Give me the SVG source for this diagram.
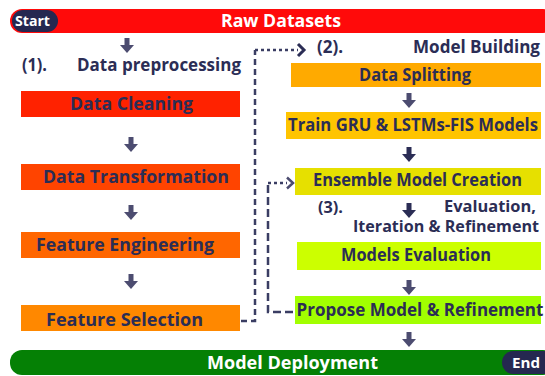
<svg xmlns="http://www.w3.org/2000/svg" width="545" height="376" viewBox="0 0 545 376">
<style>
text{font-family:"Open Sans","Liberation Sans",sans-serif;font-weight:700}
.lbl{font-size:17px;fill:#2b2d55}
.hdr{font-size:17px;fill:#2b2d55}
.hdr3{font-size:15.5px;fill:#2b2d55}
.wt{fill:#ffffff}
.arr{fill:#4c4c70}
.arr2{fill:#2b2d55}
.dash{fill:none;stroke:#3a3d63;stroke-width:2.5}
</style>
<defs>
<path id="dn" d="M-2.5,-8 H2.5 V-1 H7 L0,7 L-7,-1 H-2.5 Z"/>
</defs>
<rect width="545" height="376" fill="#ffffff"/>
<g id="raw">
<rect x="10" y="9" width="545" height="24" rx="12" fill="#ff0a0a"/>
<text class="wt" x="221" y="26.5" font-size="17" textLength="120" lengthAdjust="spacingAndGlyphs">Raw Datasets</text>
</g>
<g id="start">
<rect x="12" y="10" width="46" height="22" rx="11" fill="#252850"/>
<text class="wt" x="15" y="26" font-size="14" textLength="35" lengthAdjust="spacingAndGlyphs">Start</text>
</g>
<g id="deploy">
<rect x="10" y="350" width="545" height="25" rx="12" fill="#058005"/>
<text class="wt" x="207" y="369" font-size="17" textLength="171" lengthAdjust="spacingAndGlyphs">Model Deployment</text>
</g>
<g id="end">
<rect x="502" y="351" width="60" height="23" rx="11.5" fill="#252850"/>
<text class="wt" x="512" y="368" font-size="14" textLength="28" lengthAdjust="spacingAndGlyphs">End</text>
</g>
<g id="hdr1"><text class="hdr" x="22" y="71" textLength="25" lengthAdjust="spacingAndGlyphs">(1).</text><text class="hdr" x="77" y="71" textLength="164" lengthAdjust="spacingAndGlyphs">Data preprocessing</text></g>
<g id="hdr2"><text class="hdr" x="317" y="53" textLength="26" lengthAdjust="spacingAndGlyphs">(2).</text><text class="hdr" x="413" y="53" textLength="127" lengthAdjust="spacingAndGlyphs">Model Building</text></g>
<g id="hdr3"><text class="hdr3" x="318" y="213" textLength="25" lengthAdjust="spacingAndGlyphs">(3).</text><text class="hdr3" x="444" y="212" textLength="92" lengthAdjust="spacingAndGlyphs">Evaluation,</text><text class="hdr3" x="353" y="232" textLength="186" lengthAdjust="spacingAndGlyphs">Iteration &amp; Refinement</text></g>
<g id="clean"><rect x="21" y="91" width="219" height="26" fill="#ff2200"/><text class="lbl" x="70" y="109.5" textLength="123" lengthAdjust="spacingAndGlyphs">Data Cleaning</text></g>
<g id="transform"><rect x="21" y="164" width="219" height="26" fill="#ff4400"/><text class="lbl" x="43" y="183" textLength="186" lengthAdjust="spacingAndGlyphs">Data Transformation</text></g>
<g id="engineer"><rect x="21" y="232" width="219" height="26" fill="#ff6600"/><text class="lbl" x="36" y="251" textLength="178" lengthAdjust="spacingAndGlyphs">Feature Engineering</text></g>
<g id="select"><rect x="21" y="305" width="219" height="26" fill="#ff8800"/><text class="lbl" x="46" y="326" textLength="157" lengthAdjust="spacingAndGlyphs">Feature Selection</text></g>
<g id="split"><rect x="291" y="63" width="250" height="24" fill="#ffaa00"/><text class="lbl" x="359" y="80.5" textLength="112" lengthAdjust="spacingAndGlyphs">Data Splitting</text></g>
<g id="train"><rect x="286" y="112" width="255" height="27" fill="#ffc400"/><text class="lbl" x="288" y="131" textLength="250" lengthAdjust="spacingAndGlyphs">Train GRU &amp; LSTMs-FIS Models</text></g>
<g id="ensemble"><rect x="295" y="168" width="246" height="27" fill="#e6e000"/><text class="lbl" x="313" y="186" textLength="209" lengthAdjust="spacingAndGlyphs">Ensemble Model Creation</text></g>
<g id="evaluate"><rect x="297" y="242" width="244" height="28" fill="#ccff00"/><text class="lbl" x="341" y="261" textLength="150" lengthAdjust="spacingAndGlyphs">Models Evaluation</text></g>
<g id="propose"><rect x="295" y="296" width="246" height="28" fill="#a2ff00"/><text class="lbl" x="420" y="315.5" font-size="15.4" text-anchor="middle">Propose Model &amp; Refinement</text></g>
<g id="connectors">
<use href="#dn" class="arr" x="127" y="46"/>
<use href="#dn" class="arr" x="131" y="145"/>
<use href="#dn" class="arr" x="131" y="213"/>
<use href="#dn" class="arr" x="131" y="282"/>
<use href="#dn" class="arr" x="409" y="101"/>
<use href="#dn" class="arr2" x="409" y="155"/>
<use href="#dn" class="arr2" x="409" y="211"/>
<use href="#dn" class="arr" x="409" y="288"/>
<use href="#dn" class="arr" x="409" y="340"/>
<path class="dash" d="M241,321 H255 V50" stroke-dasharray="6,4"/>
<path class="dash" d="M255,50 H298" stroke-dasharray="3,3"/>
<path d="M298,44 L304,50 L298,56" fill="none" stroke="#2b2d55" stroke-width="3"/>
<path class="dash" d="M293,312 H268 V183" stroke-dasharray="8,4"/>
<path class="dash" d="M268,183 H287" stroke-dasharray="3,3"/>
<path d="M287,177.5 L293,183 L287,188.5" fill="none" stroke="#4c4c70" stroke-width="2.5"/>
</g>
</svg>
